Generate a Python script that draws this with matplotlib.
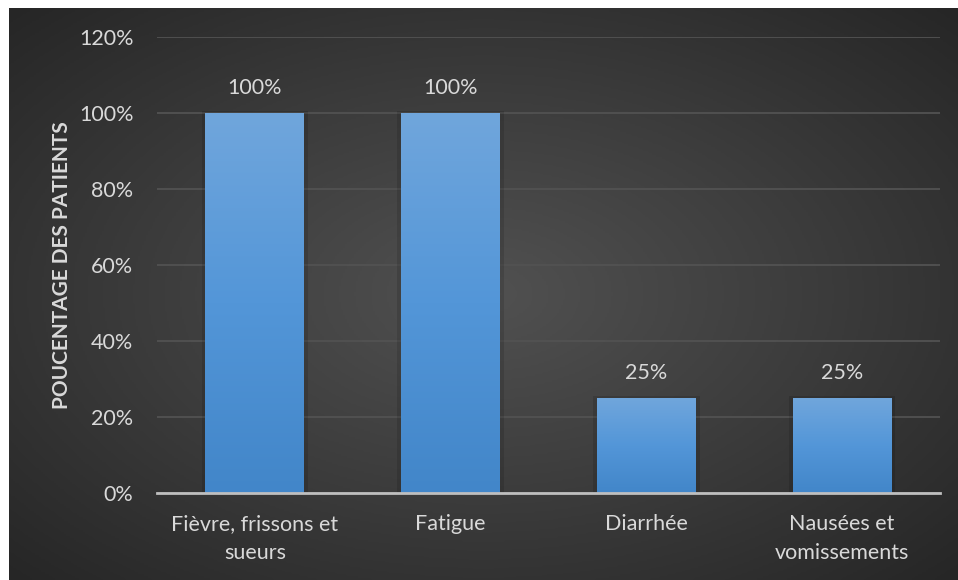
import numpy as np
import matplotlib
matplotlib.use("Agg")
import matplotlib.pyplot as plt
from matplotlib.colors import LinearSegmentedColormap
import matplotlib.ticker

symptoms = ["Fièvre, frissons et\nsueurs", "Fatigue", "Diarrhée", "Nausées et\nvomissements"]
pct = [100, 100, 25, 25]
y_ticks = [0, 20, 40, 60, 80, 100, 120]

plt.rcParams["font.family"] = ["Lato", "DejaVu Sans"]
txt = "#d9d9d9"

fig = plt.figure(figsize=(9.58, 5.8), dpi=100)
fig.patch.set_facecolor("white")

# dark radial background behind the plot
bg = fig.add_axes([9 / 958, 0, 949 / 958, 572 / 580])
bg.set_axis_off()
yy, xx = np.mgrid[-1:1:300j, -1:1:500j]
r = np.sqrt(xx ** 2 + yy ** 2) / np.sqrt(2)
bg_cmap = LinearSegmentedColormap.from_list("bg", ["#515151", "#3c3c3c", "#262626"])
bg.imshow(r, cmap=bg_cmap, aspect="auto", extent=(0, 1, 0, 1), vmin=0, vmax=1)
bg.set_xlim(0, 1)
bg.set_ylim(0, 1)

ax = fig.add_axes([157 / 958, 87 / 580, 783 / 958, 456 / 580])
ax.patch.set_alpha(0)

x = np.arange(len(symptoms))
bars = ax.bar(x, pct, width=0.505, color="#5b9bd5", zorder=3)

# vertical gradient on each bar, shadow behind
bar_cmap = LinearSegmentedColormap.from_list("bar", ["#4286c9", "#5396d8", "#70a6dc"])
grad = np.linspace(0, 1, 256).reshape(-1, 1)
for b in bars:
    x0, w, h = b.get_x(), b.get_width(), b.get_height()
    ax.add_patch(plt.Rectangle((x0 - 0.02, 0), w + 0.04, h + 0.4, color="black",
                               alpha=0.12, zorder=2, lw=0))
    im = ax.imshow(grad, cmap=bar_cmap, aspect="auto", origin="lower",
                   extent=(x0, x0 + w, 0, h), zorder=4)
    im.set_clip_path(b)
    ax.text(b.get_x() + w / 2, h + 4.0, f"{h:.0f}%", ha="center", va="bottom",
            color=txt, fontsize=15.5)

ax.set_xlim(-0.5, len(symptoms) - 0.5)
ax.set_ylim(0, 120)
ax.set_yticks(y_ticks)
ax.yaxis.set_major_formatter(matplotlib.ticker.FuncFormatter(lambda v, p: f"{v:.0f}%"))
ax.set_xticks(x)
ax.set_xticklabels(symptoms, linespacing=1.6)
ax.tick_params(axis="both", length=0, colors=txt, labelsize=15.5)
ax.tick_params(axis="y", pad=17)
ax.tick_params(axis="x", pad=15)
for lab in ax.get_xticklabels():
    lab.set_verticalalignment("top")

ax.grid(axis="y", color="#525252", linewidth=1.3, zorder=0)
for s in ["top", "right", "left"]:
    ax.spines[s].set_visible(False)
ax.spines["bottom"].set_color("#bfbfbf")
ax.spines["bottom"].set_linewidth(2)
ax.spines["bottom"].set_zorder(5)

ax.set_ylabel("POUCENTAGE DES PATIENTS", color=txt, fontsize=15, fontweight="bold",
              labelpad=5)

fig.savefig("out.png", dpi=100)
